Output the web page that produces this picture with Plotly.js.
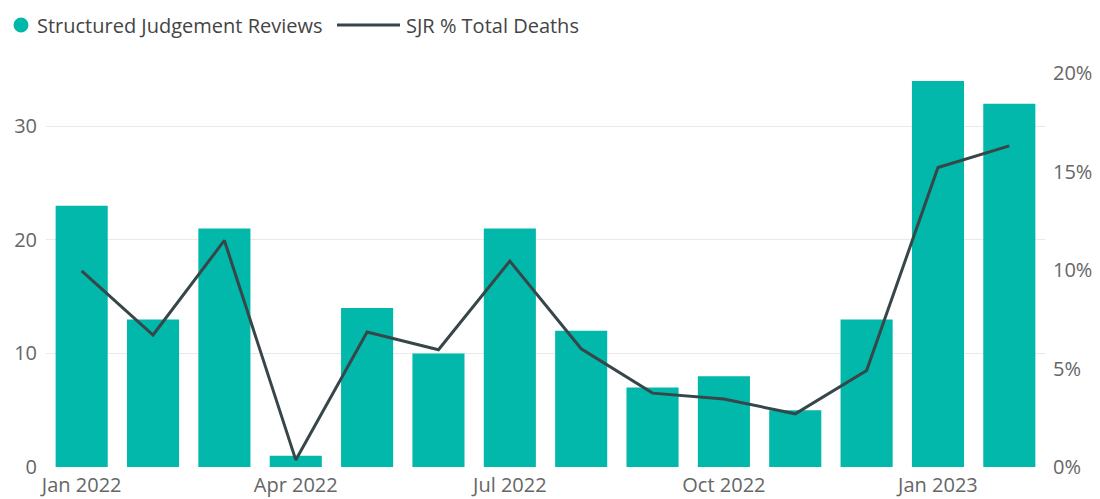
<!DOCTYPE html>
<html>
<head>
<meta charset="utf-8">
<script src="https://cdn.plot.ly/plotly-3.0.1.min.js"></script>
<style>html,body{margin:0;padding:0;background:#fff;}#chart{width:1100px;height:499px;}</style>
</head>
<body>
<div id="chart"></div>
<script>
const months = ["Jan 2022","Feb 2022","Mar 2022","Apr 2022","May 2022","Jun 2022","Jul 2022","Aug 2022","Sep 2022","Oct 2022","Nov 2022","Dec 2022","Jan 2023","Feb 2023"];
const reviews = [23, 13, 21, 1, 14, 10, 21, 12, 7, 8, 5, 13, 34, 32];
const sjrPct = [0.0995, 0.067, 0.115, 0.0036, 0.0685, 0.0595, 0.1045, 0.060, 0.0375, 0.0345, 0.027, 0.049, 0.152, 0.163];
const tickMonths = ["Jan 2022","Apr 2022","Jul 2022","Oct 2022","Jan 2023"];
const leftTicks = [0, 10, 20, 30];
const rightTicks = [0, 0.05, 0.10, 0.15, 0.20];
const seriesNames = ["Structured Judgement Reviews", "SJR % Total Deaths"];

const barColor = '#01B8AA', lineColor = '#374649';
const W = 1100, H = 499, M = {l:46, r:55, t:73, b:32};
const pw = W - M.l - M.r, ph = H - M.t - M.b;
const px = x => (x - M.l) / pw;       // pixel -> paper x
const py = y => (H - M.b - y) / ph;   // pixel -> paper y

const font = "'Open Sans', 'Noto Sans', sans-serif";
const traces = [
  {type:'bar', x:months, y:reviews, name:seriesNames[0], marker:{color:barColor}, hoverinfo:'x+y'},
  {type:'scatter', mode:'lines', x:months, y:sjrPct, yaxis:'y2', name:seriesNames[1], line:{color:lineColor, width:3}}
];
const legendY = 25;
const shapes = [
  {type:'circle', xref:'paper', yref:'paper', x0:px(13.5), x1:px(28.5), y0:py(legendY+7.5), y1:py(legendY-7.5), fillcolor:barColor, line:{width:0}},
  {type:'line', xref:'paper', yref:'paper', x0:px(337), x1:px(400), y0:py(legendY), y1:py(legendY), line:{color:lineColor, width:3}}
];
const annotations = [
  {xref:'paper', yref:'paper', x:px(35), y:py(legendY), xanchor:'left', yanchor:'middle', text:seriesNames[0], showarrow:false, font:{size:20, color:'#444'}},
  {xref:'paper', yref:'paper', x:px(404), y:py(legendY), xanchor:'left', yanchor:'middle', text:seriesNames[1], showarrow:false, font:{size:20, color:'#444'}}
];
const layout = {
  width:W, height:H,
  margin:{l:M.l, r:M.r, t:M.t, b:M.b, autoexpand:false},
  paper_bgcolor:'#fff', plot_bgcolor:'#fff',
  font:{family:font, color:'#666', size:20},
  bargap:0.27,
  showlegend:false,
  shapes:shapes,
  annotations:annotations,
  xaxis:{type:'category', automargin:false, tickmode:'array', tickvals:tickMonths, ticktext:tickMonths, showgrid:false, zeroline:false, showline:false, ticks:'', ticklabelstandoff:4, tickfont:{size:20, color:'#666'}},
  yaxis:{range:[0, 34.7], automargin:false, tickmode:'array', tickvals:leftTicks, showgrid:true, gridcolor:'#e9e9e9', gridwidth:1, zeroline:false, showline:false, ticks:'', ticklabelstandoff:8, tickfont:{size:20, color:'#666'}},
  yaxis2:{overlaying:'y', side:'right', automargin:false, range:[0, 0.20], tickmode:'array', tickvals:rightTicks, tickformat:'.0%', showgrid:false, zeroline:false, showline:false, ticks:'', ticklabelstandoff:7, tickfont:{size:20, color:'#666'}}
};
Plotly.newPlot('chart', traces, layout, {displayModeBar:false, staticPlot:true});
</script>
</body>
</html>
